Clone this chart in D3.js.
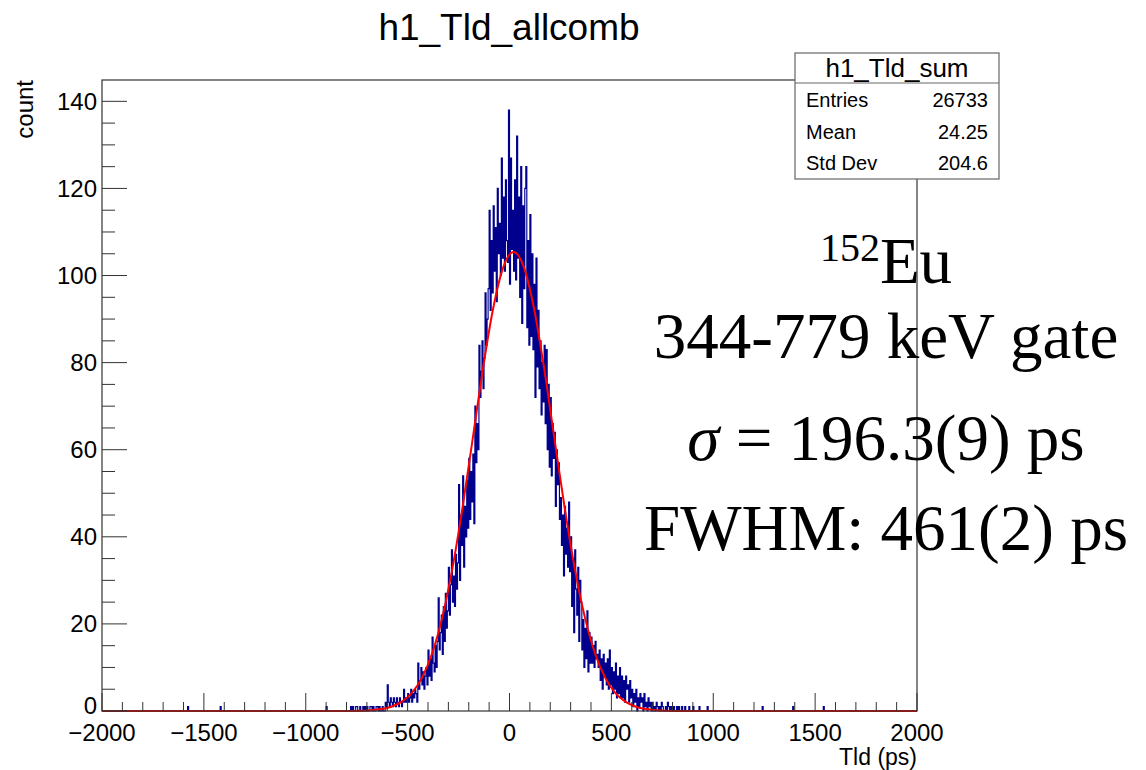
<!DOCTYPE html>
<html>
<head>
<meta charset="utf-8">
<script src="https://cdn.jsdelivr.net/npm/d3@7"></script>
<style>
  html, body { margin: 0; padding: 0; background: #fff; }
  svg { display: block; }
</style>
</head>
<body>
<svg id="chart" width="1146" height="770"></svg>
<script>
// ---------------- data ----------------
const histTitle = "h1_Tld_allcomb";
const statsTitle = "h1_Tld_sum";
const statsLabels = ["Entries", "Mean", "Std Dev"];
const statsValues = ["26733", "24.25", "204.6"];
const xTicks = [-2000, -1500, -1000, -500, 0, 500, 1000, 1500, 2000];
const yTicks = [0, 20, 40, 60, 80, 100, 120, 140];
const xLabel = "Tld (ps)";
const yLabel = "count";

// histogram: bins of 5 ps, first bin starting at -800 ps (one row = 100 ps)
const binWidth = 5;
const countsStart = -800;
const counts = [
  0,0,0,0,1,0,1,0,0,1, 1,0,0,1,0,0,1,0,1,0,
  1,0,0,1,1,0,1,0,0,1, 1,0,1,0,0,1,0,0,2,1,
  6,2,1,3,2,1,3,2,1,3, 2,1,3,2,1,2,5,2,3,2,
  4,2,3,5,2,4,3,5,4,2, 11,5,7,10,6,9,5,8,10,6,
  14,8,12,7,17,11,9,15,10,16, 26,14,18,22,13,24,16,27,19,23,
  33,22,29,37,25,31,24,36,28,34, 52,30,45,38,54,33,47,40,53,42,
  58,44,55,48,59,43,70,57,66,60, 84,72,78,85,74,81,96,84,90,97,
  115,92,108,96,116,101,111,94,120,105, 112,100,127,104,118,101,122,108,103,138,
  98,127,106,115,101,122,99,132,104,118, 95,125,89,116,97,120,125,88,108,84,
  114,86,105,83,98,72,104,79,92,74, 85,68,80,71,84,66,83,60,75,56,
  72,54,66,58,64,47,60,52,57,44, 49,38,45,31,47,36,42,33,48,32,
  40,24,35,18,37,28,22,33,16,30, 25,14,21,10,19,12,23,9,18,11,
  17,11,15,10,16,12,13,10,14,7, 12,5,13,8,11,6,12,5,14,6,
  10,4,9,5,11,3,8,4,10,3, 8,3,7,2,8,5,6,2,7,3,
  5,1,4,2,5,0,3,1,4,2, 3,0,4,1,2,0,3,1,2,0,
  2,0,1,0,2,1,0,1,0,2, 1,0,0,1,0,2,1,0,1,0,
  0,1,0,0,1,0,1,0,0,1, 0,0,1,0,0,0,1,0,0,0,
  1,0,0,0,0,0,1,0,0,0, 0,0,0,0,1,0,0,0,0,0
];
// isolated single-count bins far in the tails
const strayBins = [-1580, -1420, -900, 1240, 1390, 1540];

// fitted curve
const fitX = [-2000, -780, -730, -680, -630, -580, -530, -480, -430, -380, -330, -280, -230, -180, -130, -80, -30, 20,
              70, 120, 170, 220, 270, 320, 370, 420, 470, 520, 570, 620, 670, 720, 770, 820, 2000];
const fitY = [0, 0.01, 0.07, 0.18, 0.44, 0.99, 2.1, 4.1, 7.6, 13.2, 21.5, 32.8, 46.9, 62.7, 78.7, 92.5, 102.0, 105.4,
              102.0, 92.5, 78.7, 62.7, 46.9, 32.8, 21.5, 13.2, 7.6, 4.1, 2.1, 0.99, 0.44, 0.18, 0.07, 0.01, 0];

const annotLines = ["344-779 keV gate", "= 196.3(9) ps", "FWHM: 461(2) ps"];

// ---------------- layout ----------------
const svg = d3.select("#chart");
const F = { l: 102, r: 917, t: 80, b: 711 };
const x = d3.scaleLinear().domain([-2000, 2000]).range([F.l, F.r]);
const y = d3.scaleLinear().domain([0, 144.9]).range([F.b, F.t]);
const sans = "'Liberation Sans', Arial, Helvetica, sans-serif";
const serif = "'Liberation Serif', 'Times New Roman', Times, serif";
const axisColor = "#333";

// full histogram
const nBins = 4000 / binWidth;
const full = d3.range(nBins).map(i => ({ x0: -2000 + i * binWidth, v: 0 }));
counts.forEach((c, i) => {
  const idx = Math.round((countsStart + i * binWidth + 2000) / binWidth);
  full[idx].v = c;
});
strayBins.forEach(s => { full[Math.round((s + 2000) / binWidth)].v = 1; });

// title
svg.append("text").attr("x", 509).attr("y", 40).attr("text-anchor", "middle")
  .attr("font-family", sans).attr("font-size", 37).attr("fill", "#000").text(histTitle);

// histogram step line
const pts = full.map(d => [d.x0, d.v]).concat([[2000, full[nBins - 1].v]]);
const step = d3.line().x(d => x(d[0])).y(d => y(d[1])).curve(d3.curveStepAfter);
svg.append("path").datum(pts).attr("d", step)
  .attr("fill", "none").attr("stroke", "#00008c").attr("stroke-width", 1.15);

// fit curve
const fitPts = fitX.map((v, i) => [v, fitY[i]]);
svg.append("path").datum(fitPts)
  .attr("d", d3.line().x(d => x(d[0])).y(d => y(d[1])).curve(d3.curveMonotoneX))
  .attr("fill", "none").attr("stroke", "#ff0000").attr("stroke-width", 2);

// frame
svg.append("rect").attr("x", F.l).attr("y", F.t).attr("width", F.r - F.l).attr("height", F.b - F.t)
  .attr("fill", "none").attr("stroke", axisColor).attr("stroke-width", 1.2);

// x ticks (inside, pointing up)
const xMinor = d3.range(-2000, 2001, 100);
const gx = svg.append("g");
gx.selectAll("line").data(xMinor).join("line")
  .attr("x1", d => x(d)).attr("x2", d => x(d))
  .attr("y1", F.b).attr("y2", d => F.b - (d % 500 === 0 ? 18 : 9))
  .attr("stroke", axisColor).attr("stroke-width", 1);
gx.selectAll("text").data(xTicks).join("text")
  .attr("x", d => x(d)).attr("y", 741).attr("text-anchor", "middle")
  .attr("font-family", sans).attr("font-size", 24).attr("fill", "#000")
  .text(d => d < 0 ? "\u2212" + Math.abs(d) : String(d));

// y ticks (inside, pointing right)
const yMinor = d3.range(0, 141, 5);
const gy = svg.append("g");
gy.selectAll("line").data(yMinor).join("line")
  .attr("x1", F.l).attr("x2", d => F.l + (d % 20 === 0 ? 25 : 13))
  .attr("y1", d => y(d)).attr("y2", d => y(d))
  .attr("stroke", axisColor).attr("stroke-width", 1);
gy.selectAll("text").data(yTicks).join("text")
  .attr("x", 97).attr("y", d => y(d) - (d === 0 ? 5 : 0)).attr("dy", "0.35em").attr("text-anchor", "end")
  .attr("font-family", sans).attr("font-size", 24).attr("fill", "#000").text(d => d);

// axis titles
svg.append("text").attr("x", F.r).attr("y", 765).attr("text-anchor", "end")
  .attr("font-family", sans).attr("font-size", 23).attr("fill", "#000").text(xLabel);
svg.append("text").attr("transform", `translate(33,${F.t}) rotate(-90)`).attr("text-anchor", "end")
  .attr("font-family", sans).attr("font-size", 24).attr("fill", "#000").text(yLabel);

// stats box
const SB = { x: 795, y: 53, w: 204, h: 126, hdr: 30 };
svg.append("rect").attr("x", SB.x).attr("y", SB.y).attr("width", SB.w).attr("height", SB.h)
  .attr("fill", "#fff").attr("stroke", "#666").attr("stroke-width", 1.2);
svg.append("line").attr("x1", SB.x).attr("x2", SB.x + SB.w).attr("y1", SB.y + SB.hdr).attr("y2", SB.y + SB.hdr)
  .attr("stroke", "#666").attr("stroke-width", 1.2);
svg.append("text").attr("x", SB.x + SB.w / 2).attr("y", 77).attr("text-anchor", "middle")
  .attr("font-family", sans).attr("font-size", 26).attr("fill", "#000").text(statsTitle);
const rowY = [107, 139, 170];
statsLabels.forEach((lab, i) => {
  svg.append("text").attr("x", 806).attr("y", rowY[i])
    .attr("font-family", sans).attr("font-size", 20).attr("fill", "#000").text(lab);
  svg.append("text").attr("x", 988).attr("y", rowY[i]).attr("text-anchor", "end")
    .attr("font-family", sans).attr("font-size", 20).attr("fill", "#000").text(statsValues[i]);
});

// annotation
const cx = 886;
const t1 = svg.append("text").attr("x", cx).attr("y", 283).attr("text-anchor", "middle")
  .attr("font-family", serif).attr("font-size", 65).attr("fill", "#000");
t1.append("tspan").attr("font-size", 40).attr("dy", -22).text("152");
t1.append("tspan").attr("dy", 22).text("Eu");
svg.append("text").attr("x", cx).attr("y", 358).attr("text-anchor", "middle")
  .attr("font-family", serif).attr("font-size", 65).attr("fill", "#000").text(annotLines[0]);
const t3 = svg.append("text").attr("x", cx).attr("y", 460).attr("text-anchor", "middle")
  .attr("font-family", serif).attr("font-size", 65).attr("fill", "#000");
t3.append("tspan").attr("font-style", "italic").text("\u03C3");
t3.append("tspan").text(" " + annotLines[1]);
svg.append("text").attr("x", cx).attr("y", 550).attr("text-anchor", "middle")
  .attr("font-family", serif).attr("font-size", 65).attr("fill", "#000").text(annotLines[2]);
</script>
</body>
</html>
